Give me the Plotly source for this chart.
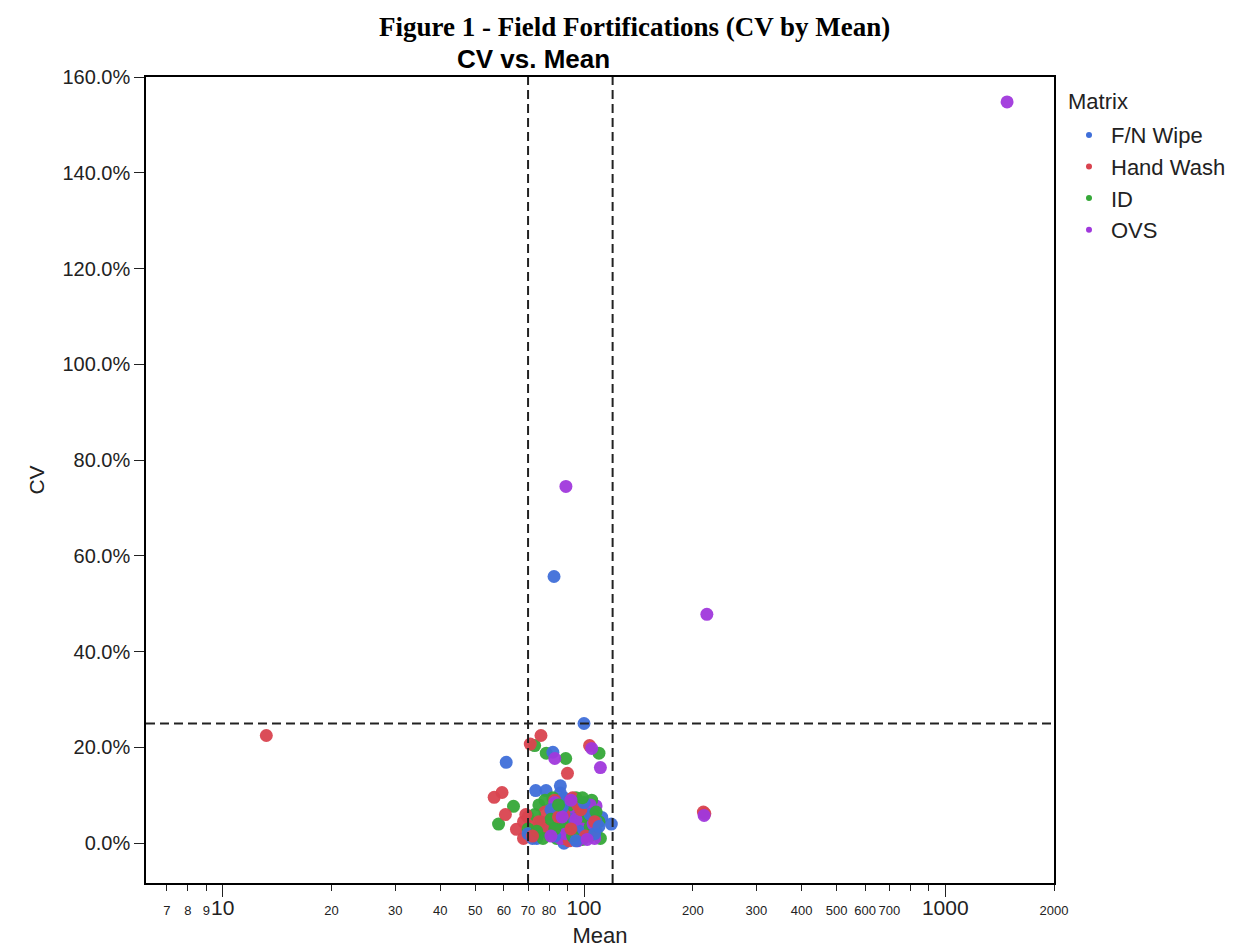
import plotly.graph_objects as go

# ---------------- data ----------------
series_names = ["F/N Wipe", "Hand Wash", "ID", "OVS"]
series_colors = ["#3f6fd9", "#d9434f", "#35a838", "#a038dc"]

fn_mean = [100, 82.6, 60.9, 82, 73.5, 78.5, 86, 86, 112, 119, 88, 75, 80, 84, 90, 95, 98, 102,
           105, 92, 88, 72, 77, 96, 99, 108, 85, 93, 81, 70, 74, 103, 89, 94,
           97, 91, 87, 104, 107, 83, 95, 100, 110]
fn_cv = [25.0, 55.7, 16.9, 19.0, 11.0, 11.0, 12.0, 10.5, 5.4, 4.0, 9.5, 3.5, 4.5, 5.5, 6.5, 8.0, 6.0, 5.0,
         3.0, 2.0, 0.0, 1.0, 2.5, 3.5, 1.5, 4.5, 3.0, 4.5, 7.0, 2.0, 1.0, 7.5, 8.5, 1.0,
         2.5, 5.0, 7.5, 6.0, 2.0, 1.5, 0.5, 8.5, 3.5]

hw_mean = [13.2, 214, 216, 71, 76, 90, 103.6, 56.4, 59.3, 60.6, 65, 68, 68, 70, 71, 73, 78, 81, 83, 86,
           90, 92, 94, 97, 99, 102, 88, 79, 84, 69, 95, 100, 91, 104, 106,
           93, 96, 88, 101, 85, 98, 75, 72, 107, 92]
hw_cv = [22.5, 6.5, 6.2, 20.7, 22.5, 14.6, 20.4, 9.6, 10.6, 6.0, 2.9, 1.0, 4.5, 5.5, 3.5, 2.0, 6.5, 7.0, 9.0, 4.0,
         8.5, 7.5, 6.0, 2.5, 5.0, 3.0, 1.0, 3.0, 2.0, 6.0, 1.5, 4.0, 0.5, 6.5, 2.5,
         9.5, 8.0, 6.0, 1.5, 5.5, 7.0, 4.5, 1.5, 4.5, 3.0]

id_mean = [73, 78.6, 89, 110, 63.8, 58, 75, 78, 82, 95, 97, 101, 106, 110, 111, 108, 73, 76, 80, 84,
           88, 92, 96, 99, 103, 70, 86, 90, 94, 81, 100, 105, 77,
           91, 98, 104, 87, 93, 108, 83, 74, 99, 85]
id_cv = [20.4, 18.8, 17.7, 18.8, 7.7, 4.0, 8.0, 9.0, 9.5, 9.5, 8.5, 7.5, 6.0, 4.5, 1.0, 2.5, 6.0, 4.0, 2.0, 1.0,
         3.5, 5.5, 2.0, 0.8, 1.5, 3.0, 6.5, 3.0, 7.0, 5.0, 4.5, 9.0, 1.0,
         8.0, 6.0, 3.5, 4.5, 1.5, 6.5, 3.0, 2.5, 9.5, 8.0]

ovs_mean = [1483, 89.1, 218.8, 215, 83, 105, 111, 108, 97, 92, 85, 80, 76, 74, 88, 94, 100, 103, 107,
            98, 90, 83, 96, 86, 101,
            93, 99, 104, 89, 95, 106, 87, 81, 102, 92]
ovs_cv = [154.8, 74.5, 47.8, 5.8, 17.7, 19.8, 15.8, 7.8, 8.0, 4.0, 2.5, 3.5, 4.5, 2.0, 6.0, 1.5, 2.5, 5.5, 1.0,
          4.5, 7.0, 8.5, 0.5, 1.0, 7.0,
          6.5, 3.0, 8.0, 2.0, 5.0, 4.0, 5.5, 1.5, 0.8, 9.0]

series_means = [fn_mean, hw_mean, id_mean, ovs_mean]
series_cvs = [fn_cv, hw_cv, id_cv, ovs_cv]

ref_x = [70, 120]      # vertical dashed reference lines (Mean)
ref_y = [0.25]         # horizontal dashed reference line (CV)

x_tick_vals = [7, 8, 9, 10, 20, 30, 40, 50, 60, 70, 80, 90, 100, 200, 300, 400, 500, 600, 700, 800, 900, 1000, 2000]
x_tick_text = ["7", "8", "9", "10", "20", "30", "40", "50", "60", "70", "80", "", "100", "200", "300", "400",
               "500", "600", "700", "", "", "1000", "2000"]
x_major = ["10", "100", "1000"]
x_major_vals = [10, 100, 1000]
y_tick_vals = [0, 0.2, 0.4, 0.6, 0.8, 1.0, 1.2, 1.4, 1.6]

# ---------------- combine points (interleaved drawing order, as in the original) ----------------
points = []
for k, (color, xs, ys) in enumerate(zip(series_colors, series_means, series_cvs)):
    n = len(xs)
    for i, (xv, yv) in enumerate(zip(xs, ys)):
        points.append((i / n, k, xv, yv / 100, color))
points.sort(key=lambda p: (p[0], p[1]))
all_x = [p[2] for p in points]
all_y = [p[3] for p in points]
all_c = [p[4] for p in points]

# ---------------- figure ----------------
fig = go.Figure()
fig.add_trace(go.Scatter(
    x=all_x, y=all_y, mode="markers", showlegend=False,
    marker=dict(color=all_c, size=13, opacity=0.95, line=dict(width=0)),
))
for name, color in zip(series_names, series_colors):
    fig.add_trace(go.Scatter(
        x=[None], y=[None], mode="markers", name=name,
        marker=dict(color=color, size=6),
    ))

for xv in ref_x:
    fig.add_shape(type="line", xref="x", yref="paper", x0=xv, x1=xv, y0=0, y1=1,
                  line=dict(color="#222", width=2, dash="9px,5px"))
for yv in ref_y:
    fig.add_shape(type="line", xref="paper", yref="y", x0=0, x1=1, y0=yv, y1=yv,
                  line=dict(color="#222", width=2, dash="9px,5px"))

tick_text = [
    (f'<span style="font-size:21px">{t}</span>' if t in x_major else t) for t in x_tick_text
]

fig.update_xaxes(
    type="log", range=[0.7875, 3.301], automargin=False,
    tickvals=x_tick_vals, ticktext=tick_text, tickangle=0,
    ticks="outside", ticklen=6, tickwidth=1.2, tickcolor="#222",
    ticklabelstandoff=9,
    minor=dict(tickmode="array", tickvals=x_major_vals, ticks="outside", ticklen=12,
               tickwidth=1.2, tickcolor="#222", showgrid=False),
    tickfont=dict(family="Liberation Sans, Arial", size=13, color="#222"),
    showline=True, linecolor="black", linewidth=1.5, mirror=True,
    showgrid=False, zeroline=False,
    title=dict(text="Mean", font=dict(family="Liberation Sans, Arial", size=22, color="#222"), standoff=9),
)
fig.update_yaxes(
    range=[-0.083, 1.6], automargin=False,
    tickvals=y_tick_vals, tickformat=".1%",
    ticks="outside", ticklen=10, tickwidth=1.2, tickcolor="#222",
    tickfont=dict(family="Liberation Sans, Arial", size=20, color="#222"),
    showline=True, linecolor="black", linewidth=1.5, mirror=True,
    showgrid=False, zeroline=False,
    title=dict(text="CV", font=dict(family="Liberation Sans, Arial", size=21, color="#222"), standoff=12),
)

fig.add_annotation(text="<b>CV vs. Mean</b>", xref="paper", yref="paper", x=0.427, y=1.0,
                   xanchor="center", yanchor="bottom", yshift=1, showarrow=False,
                   font=dict(family="Liberation Sans, Arial", size=26, color="black"))
fig.add_annotation(text="<b>Figure 1 - Field Fortifications (CV by Mean)</b>", xref="paper", yref="paper",
                   x=0.538, y=1.0, xanchor="center", yanchor="bottom", yshift=33, showarrow=False,
                   font=dict(family="Liberation Serif, Times New Roman", size=27, color="black"))
fig.add_annotation(text="Matrix", xref="paper", yref="paper", x=1.0132, y=0.969,
                   xanchor="left", yanchor="middle", showarrow=False,
                   font=dict(family="Liberation Sans, Arial", size=22, color="#222"))

fig.update_layout(
    width=1234, height=950,
    margin=dict(l=138, r=187, t=69, b=75),
    paper_bgcolor="white", plot_bgcolor="white",
    showlegend=True,
    legend=dict(
        font=dict(family="Liberation Sans, Arial", size=22, color="#222"),
        x=1.0132, xanchor="left", y=0.954, yanchor="top",
        itemwidth=34, bgcolor="rgba(0,0,0,0)",
    ),
)

fig.write_html("out.html")
